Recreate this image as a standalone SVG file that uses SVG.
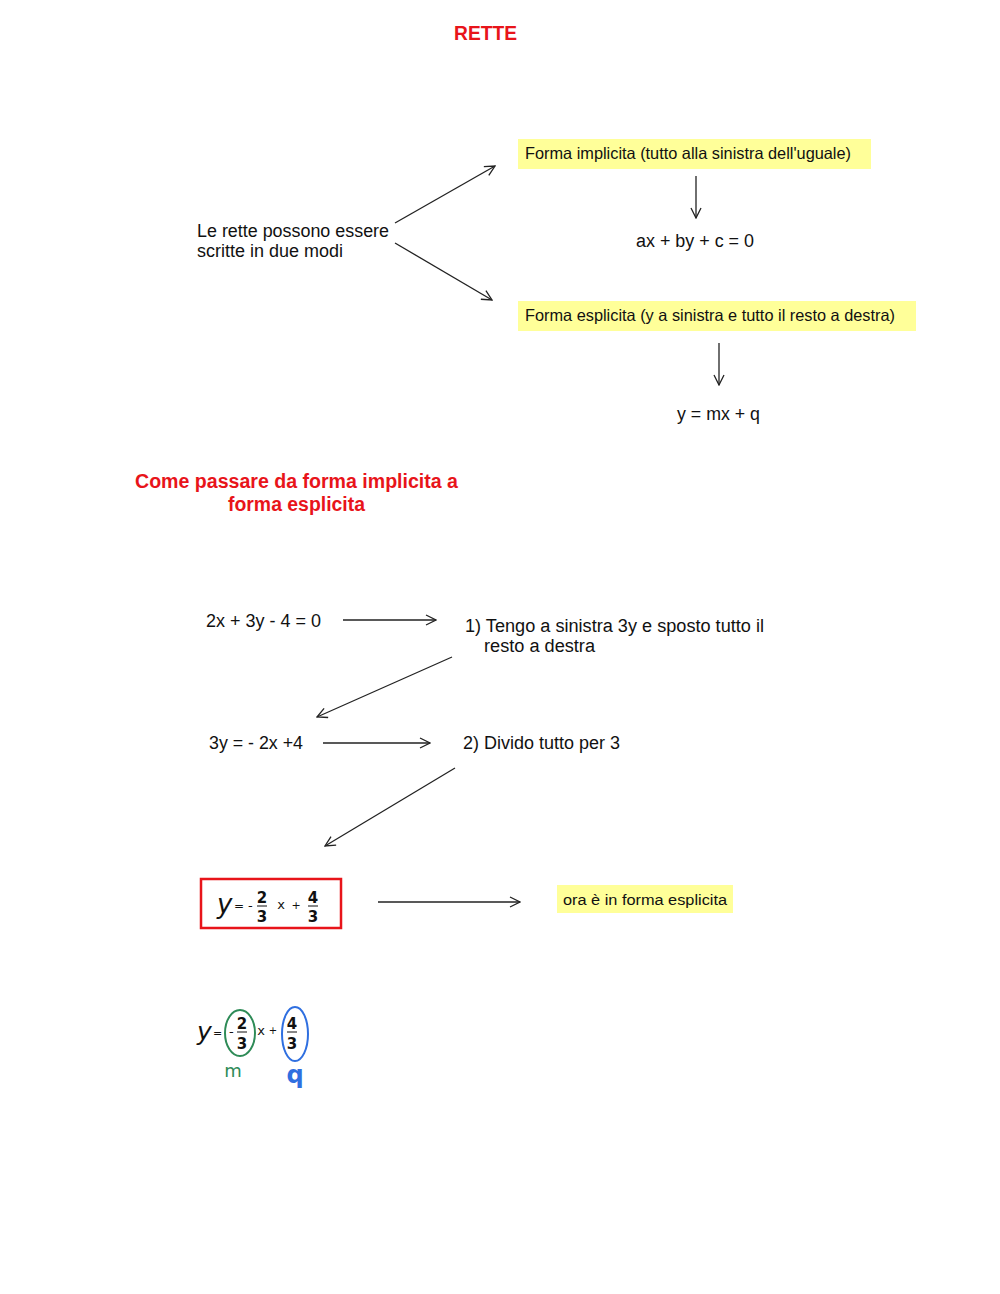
<svg xmlns="http://www.w3.org/2000/svg" width="1000" height="1294" viewBox="0 0 1000 1294">
<defs>
<marker id="ah" viewBox="0 0 12 12" refX="11" refY="6" markerWidth="12" markerHeight="12" markerUnits="userSpaceOnUse" orient="auto">
<polyline points="1,1 11,6 1,11" fill="none" stroke="#222" stroke-width="1.3"/>
</marker>
<style>
.t{font-family:"Liberation Sans",Arial,sans-serif;font-size:18px;fill:#111}
.s{font-size:16.5px}
.h{font-family:"Liberation Sans",Arial,sans-serif;font-weight:bold;font-size:19.5px;fill:#e8141a}
.c{stroke:#222;stroke-width:1.3;fill:none;marker-end:url(#ah)}
.y{fill:#ffff99}
.hw{font-family:"DejaVu Sans",sans-serif;fill:#111}
</style>
</defs>
<rect width="1000" height="1294" fill="#fff"/>
<g id="title"><text class="h" x="454" y="40" textLength="63" lengthAdjust="spacingAndGlyphs">RETTE</text></g>
<g id="intro"><text class="t" x="197" y="237" textLength="192" lengthAdjust="spacingAndGlyphs">Le rette possono essere</text><text class="t" x="197" y="257" textLength="146" lengthAdjust="spacingAndGlyphs">scritte in due modi</text></g>
<g id="implicita"><rect class="y" x="518" y="139" width="353" height="30"/><text class="t s" x="525" y="159" textLength="326" lengthAdjust="spacingAndGlyphs">Forma implicita (tutto alla sinistra dell'uguale)</text></g>
<g id="implicitaEq"><text class="t" x="636" y="247" textLength="118" lengthAdjust="spacingAndGlyphs">ax + by + c = 0</text></g>
<g id="esplicita"><rect class="y" x="518" y="301" width="398" height="30"/><text class="t s" x="525" y="321" textLength="370" lengthAdjust="spacingAndGlyphs">Forma esplicita (y a sinistra e tutto il resto a destra)</text></g>
<g id="esplicitaEq"><text class="t" x="677" y="420" textLength="83" lengthAdjust="spacingAndGlyphs">y = mx + q</text></g>
<g id="title2"><text class="h" x="135" y="488" textLength="323" lengthAdjust="spacingAndGlyphs">Come passare da forma implicita a</text><text class="h" x="228" y="511" textLength="137" lengthAdjust="spacingAndGlyphs">forma esplicita</text></g>
<g id="eq1"><text class="t" x="206" y="627" textLength="115" lengthAdjust="spacingAndGlyphs">2x + 3y - 4 = 0</text></g>
<g id="step1"><text class="t" x="465" y="632" textLength="299" lengthAdjust="spacingAndGlyphs">1) Tengo a sinistra 3y e sposto tutto il</text><text class="t" x="484" y="652" textLength="111" lengthAdjust="spacingAndGlyphs">resto a destra</text></g>
<g id="eq2"><text class="t" x="209" y="749" textLength="94" lengthAdjust="spacingAndGlyphs">3y = - 2x +4</text></g>
<g id="step2"><text class="t" x="463" y="749" textLength="157" lengthAdjust="spacingAndGlyphs">2) Divido tutto per 3</text></g>
<g id="result">
<rect x="201" y="879" width="140" height="49" fill="none" stroke="#e8141a" stroke-width="2.5"/>
<text class="hw" x="217" y="913" font-size="26" font-style="italic">y</text>
<text class="hw" x="234" y="910" font-size="12">=</text>
<text class="hw" x="248" y="910" font-size="13">-</text>
<text class="hw" x="262" y="903" font-size="15" font-weight="bold" text-anchor="middle">2</text>
<line x1="257" y1="906" x2="267" y2="906" stroke="#111" stroke-width="1"/>
<text class="hw" x="262" y="922" font-size="15" font-weight="bold" text-anchor="middle">3</text>
<text class="hw" x="281" y="909" font-size="13" text-anchor="middle">x</text>
<text class="hw" x="296" y="909" font-size="11" text-anchor="middle">+</text>
<text class="hw" x="313" y="903" font-size="15" font-weight="bold" text-anchor="middle">4</text>
<line x1="308" y1="906" x2="318" y2="906" stroke="#111" stroke-width="1"/>
<text class="hw" x="313" y="922" font-size="15" font-weight="bold" text-anchor="middle">3</text>
</g>
<g id="note"><rect class="y" x="557" y="885" width="176" height="28"/><text class="t" x="563" y="905" textLength="164" lengthAdjust="spacingAndGlyphs" style="font-size:15.5px">ora è in forma esplicita</text></g>
<g id="mq">
<text class="hw" x="197" y="1040" font-size="25" font-style="italic">y</text>
<text class="hw" x="213" y="1037" font-size="11">=</text>
<ellipse cx="240" cy="1033" rx="15" ry="23" fill="none" stroke="#2e8b57" stroke-width="2"/>
<text class="hw" x="229" y="1036" font-size="13">-</text>
<text class="hw" x="242" y="1029" font-size="15" font-weight="bold" text-anchor="middle">2</text>
<line x1="237" y1="1032" x2="247" y2="1032" stroke="#111" stroke-width="1"/>
<text class="hw" x="242" y="1049" font-size="15" font-weight="bold" text-anchor="middle">3</text>
<text class="hw" x="261" y="1035" font-size="13" text-anchor="middle">x</text>
<text class="hw" x="273" y="1034" font-size="10" text-anchor="middle">+</text>
<ellipse cx="295" cy="1034" rx="13" ry="27" fill="none" stroke="#2f6fe0" stroke-width="2"/>
<text class="hw" x="292" y="1029" font-size="15" font-weight="bold" text-anchor="middle">4</text>
<line x1="287" y1="1032" x2="297" y2="1032" stroke="#111" stroke-width="1"/>
<text class="hw" x="292" y="1049" font-size="15" font-weight="bold" text-anchor="middle">3</text>
<text class="hw" x="233" y="1077" font-size="18" text-anchor="middle" style="fill:#2e8b57">m</text>
<text class="hw" x="295" y="1083" font-size="24" text-anchor="middle" font-weight="bold" style="fill:#2f6fe0">q</text>
</g>
<g id="connectors">
<line class="c" x1="395" y1="223" x2="495" y2="166"/>
<line class="c" x1="395" y1="243" x2="492" y2="300"/>
<line class="c" x1="696" y1="176" x2="696" y2="218"/>
<line class="c" x1="719" y1="343" x2="719" y2="385"/>
<line class="c" x1="343" y1="620" x2="436" y2="620"/>
<line class="c" x1="452" y1="657" x2="317" y2="717"/>
<line class="c" x1="323" y1="743" x2="430" y2="743"/>
<line class="c" x1="455" y1="768" x2="325" y2="846"/>
<line class="c" x1="378" y1="902" x2="520" y2="902"/>
</g>
</svg>
